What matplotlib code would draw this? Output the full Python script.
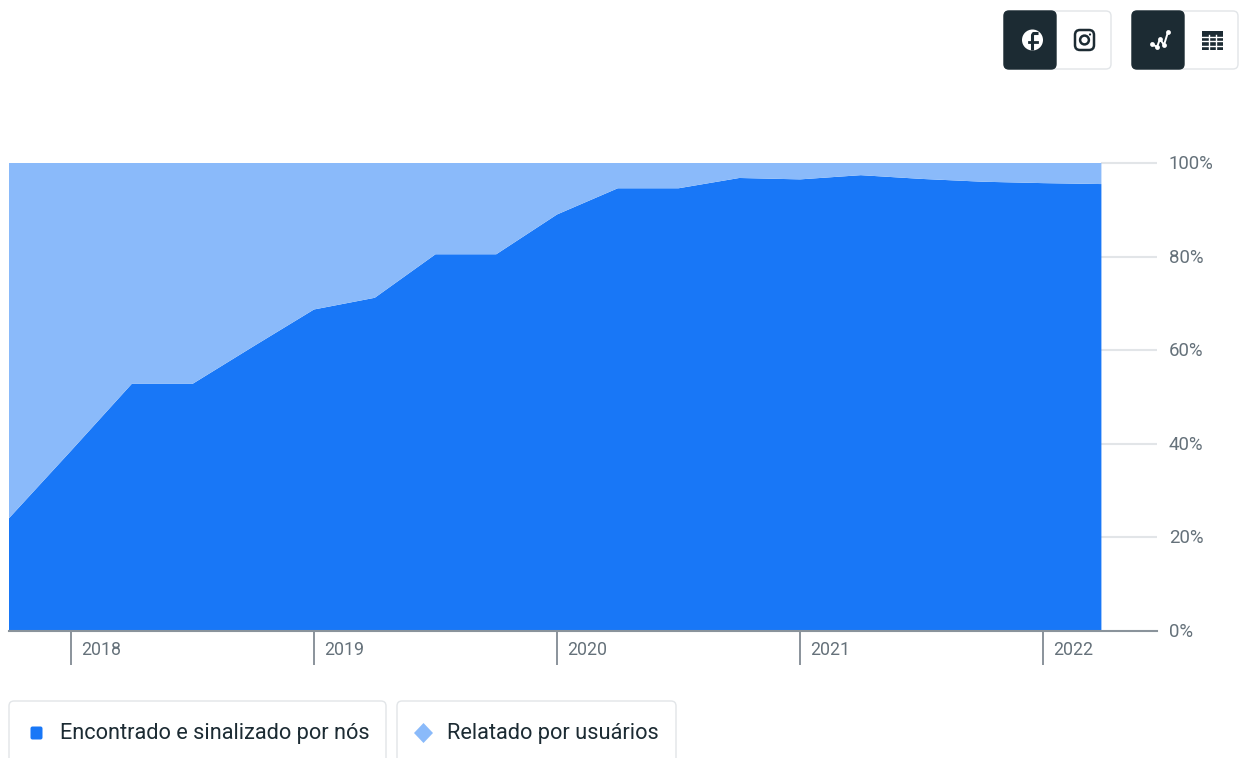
"""Share of removed content by detection source, with page controls around the chart."""

import matplotlib

matplotlib.use("Agg")
import matplotlib.pyplot as plt
from matplotlib.patches import Circle, FancyBboxPatch, Polygon, Rectangle
from matplotlib.transforms import ScaledTranslation

W, H = 1239, 758

# quarter index, 1 = first quarter of 2018
quarters = [-0.02, 1, 2, 3, 4, 5, 6, 7, 8, 9, 10, 11, 12, 13, 14, 15, 16, 17, 17.96]
found_by_us = [24.1, 38.5, 52.8, 52.8, 60.8, 68.7, 71.2, 80.5, 80.5, 89, 94.6, 94.6, 96.8, 96.5, 97.4, 96.6, 96, 95.7, 95.5]
reported_by_users = [100 - v for v in found_by_us]
year_ticks = [1, 5, 9, 13, 17]
year_labels = ["2018", "2019", "2020", "2021", "2022"]
pct_ticks = [0, 20, 40, 60, 80, 100]
pct_labels = ["0%", "20%", "40%", "60%", "80%", "100%"]

BLUE = "#1877f7"
LIGHT = "#8abafa"
DARK = "#1c2b33"
GREY = "#65717a"
AXIS = "#8a939b"
EDGE = "#e2e5e8"

plt.rcParams["font.family"] = ["Roboto", "DejaVu Sans"]

fig = plt.figure(figsize=(W / 100, H / 100), dpi=100)


def px_axes(left, top, right, bottom):
    return fig.add_axes([left / W, 1 - bottom / H, (right - left) / W, (bottom - top) / H])


ax = px_axes(9, 163, 1157, 631)
ax.stackplot(quarters, found_by_us, reported_by_users, colors=[BLUE, LIGHT], lw=0, zorder=2)
ax.set_xlim(-0.02, 18.875)
ax.set_ylim(0, 100)
ax.yaxis.tick_right()
ax.set_yticks(pct_ticks, pct_labels)
ax.tick_params(axis="y", length=0, pad=8.5, labelsize=13.4, labelcolor=GREY)
for lab in ax.get_yticklabels():
    lab.set_transform(lab.get_transform() + ScaledTranslation(0, 1 / 100, fig.dpi_scale_trans))
# gridlines only show to the right of the areas
ax.hlines(pct_ticks[1:], quarters[-1], ax.get_xlim()[1], color=EDGE, lw=1.5, zorder=1, clip_on=False)
ax.set_xticks(year_ticks, [])
ax.tick_params(axis="x", length=24.5, width=1.4, color=AXIS)
for pos, lab in zip(year_ticks, year_labels):
    ax.annotate(lab, (pos, 0), xytext=(7.5, -13.5), textcoords="offset points", ha="left", va="center",
                fontsize=12.8, color=GREY)
for side in ["top", "left", "right"]:
    ax.spines[side].set_visible(False)
ax.spines["bottom"].set_color(AXIS)
ax.spines["bottom"].set_linewidth(1.5)

# everything outside the plot is laid out in pixel coordinates
ui = px_axes(0, 0, W, H)
ui.set_xlim(0, W)
ui.set_ylim(H, 0)
ui.axis("off")
ui.patch.set_alpha(0)


def rounded(x0, y0, x1, y1, face, edge, r=5, z=2, lw=1.0):
    patch = FancyBboxPatch((x0 + r, y0 + r), x1 - x0 - 2 * r, y1 - y0 - 2 * r,
                           boxstyle=f"round,pad={r},rounding_size={r}",
                           fc=face, ec=edge, lw=lw, zorder=z)
    ui.add_patch(patch)
    return patch


def toggle(x0, xm, x1):
    rounded(x0, 11, x1, 69, "white", EDGE)
    rounded(x0, 11, xm, 69, DARK, DARK, z=3)


toggle(1004, 1056, 1111)
toggle(1132, 1184, 1238)

# facebook: stem and crossbar cut out of a white disc
badge = Circle((1032.5, 40), 10.5, fc="white", ec="none", zorder=4)
ui.add_patch(badge)
stem, = ui.plot([1037, 1033.5, 1032.5, 1032.5], [33.5, 33.5, 35, 52], color=DARK, lw=2.2, zorder=5)
bar, = ui.plot([1028.5, 1037], [41.5, 41.5], color=DARK, lw=2, zorder=5)
stem.set_clip_path(badge)
bar.set_clip_path(badge)

# instagram
rounded(1075, 30, 1094, 50, "white", DARK, r=5, z=4, lw=1.8)
ui.add_patch(Circle((1084.5, 40), 4.4, fc="white", ec=DARK, lw=1.8, zorder=5))
ui.add_patch(Circle((1090, 34.5), 1.1, fc=DARK, ec="none", zorder=5))

# line chart icon
trend_x = [1152, 1157, 1160, 1164, 1168]
trend_y = [44, 47, 39, 45, 32]
ui.plot(trend_x, trend_y, color="white", lw=1.4, zorder=4)
ui.scatter(trend_x, trend_y, s=12, color="white", lw=0, zorder=5)

# table icon
ui.add_patch(Rectangle((1202, 31), 21, 19, fc=DARK, ec="none", zorder=4))
for y in [36.5, 41, 45.5]:
    ui.plot([1202, 1223], [y, y], color="white", lw=1, zorder=5)
for x in [1209, 1216]:
    ui.plot([x, x], [35, 50], color="white", lw=1, zorder=5)

# legend chips run off the bottom edge
rounded(9, 701, 386, 780, "white", EDGE)
rounded(397, 701, 676, 780, "white", EDGE)
ui.add_patch(FancyBboxPatch((31, 727), 11, 12, boxstyle="round,pad=0.5,rounding_size=2", fc=BLUE, ec="none", zorder=4))
ui.add_patch(Polygon([(423.5, 723), (433, 733), (423.5, 743), (414, 733)], fc=LIGHT, ec="none", zorder=4))
ui.text(60, 734, "Encontrado e sinalizado por nós", fontsize=15.7, color=DARK, va="center", zorder=5)
ui.text(447, 734, "Relatado por usuários", fontsize=15.7, color=DARK, va="center", zorder=5)

fig.savefig("out.png", dpi=100)
